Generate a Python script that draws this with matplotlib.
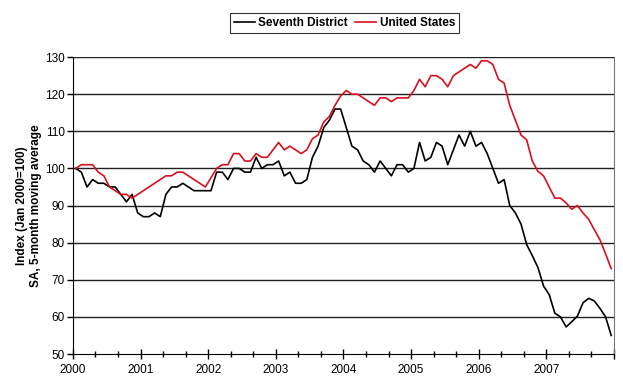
import matplotlib
matplotlib.use("Agg")
import matplotlib.pyplot as plt
from matplotlib.ticker import MultipleLocator
import numpy as np

plt.rcParams['font.family'] = ['Liberation Sans', 'DejaVu Sans']

# monthly index, Jan 2000 .. Dec 2007
seventh_district = [
    100, 99, 95, 97, 96, 96, 95, 95, 93, 91, 93, 88,
    87, 87, 88, 87, 93, 95, 95, 96, 95, 94, 94, 94,
    94, 99, 99, 97, 100, 100, 99, 99, 103, 100, 101, 101,
    102, 98, 99, 96, 96, 97, 103, 106, 111, 113, 116, 116,
    111, 106, 105, 102, 101, 99, 102, 100, 98, 101, 101, 99,
    100, 107, 102, 103, 107, 106, 101, 105, 109, 106, 110, 106,
    107, 104, 100, 96, 97, 90, 88, 85, 79.5, 76.5, 73.3, 68.3,
    66, 61, 60, 57.3, 58.7, 60.2, 63.8, 65, 64.3, 62.3, 60, 55,
]
united_states = [
    100, 101, 101, 101, 99, 98, 95, 94, 93, 93, 92, 93,
    94, 95, 96, 97, 98, 98, 99, 99, 98, 97, 96, 95,
    97.5, 100, 101, 101, 104, 104, 102, 102, 104, 103, 103, 105,
    107, 105, 106, 105, 104, 105, 108, 109, 112.5, 114, 117, 119.5,
    121, 120, 120, 119, 118, 117, 119, 119, 118, 119, 119, 119,
    121, 124, 122, 125, 125, 124, 122, 125, 126, 127, 128, 127,
    129, 129, 128, 124, 123, 117, 113, 109, 107.7, 102, 99.2, 98,
    95, 92, 92, 90.7, 89, 90, 88, 86.3, 83.5, 80.8, 77, 73,
]
years = ["2000", "2001", "2002", "2003", "2004", "2005", "2006", "2007"]

months = np.arange(len(seventh_district)) + 0.5

fig = plt.figure(figsize=(6.23, 3.83), dpi=100)
ax = fig.add_axes([0.117, 0.0757, 0.8686, 0.7753])

ax.set_ylim(50, 130)
ax.set_xlim(0, 96)
ax.yaxis.set_major_locator(MultipleLocator(10))
for v in range(60, 131, 10):
    ax.axhline(v, color="#222222", lw=1.0, zorder=1)

ax.plot(months, seventh_district, color="black", lw=1.2, label="Seventh District", zorder=3)
ax.plot(months, united_states, color="#d8101c", lw=1.2, label="United States", zorder=3)

ax.set_xticks(np.arange(0, 97, 12))
ax.set_xticklabels([])
ax.set_xticks(np.arange(0, 97, 4), minor=True)
for i, y in enumerate(years):
    ax.text(i * 12, 47.4, y, ha="center", va="top", fontsize=8.5,
            transform=ax.transData)
ax.tick_params(axis="x", which="major", direction="inout", length=7, width=1)
ax.tick_params(axis="x", which="minor", direction="inout", length=5, width=1)
ax.tick_params(axis="y", direction="out", length=4, width=1, labelsize=8.5, pad=2)

for s in ["left", "bottom"]:
    ax.spines[s].set_color("black")
ax.spines["top"].set_visible(False)
ax.spines["right"].set_color("#777777")

ax.set_ylabel("Index (Jan 2000=100)\nSA, 5-month moving average",
              fontsize=8.5, fontweight="bold", labelpad=2)

leg = fig.legend(loc="center", bbox_to_anchor=(0.553, 0.94), ncol=2,
                 frameon=True, fancybox=False,
                 handlelength=1.8, handletextpad=0.3, columnspacing=0.6,
                 borderpad=0.3, borderaxespad=0,
                 prop={"weight": "bold", "size": 8.5})
leg.get_frame().set_edgecolor("black")
leg.get_frame().set_linewidth(0.8)

fig.savefig("out.png", dpi=100)
